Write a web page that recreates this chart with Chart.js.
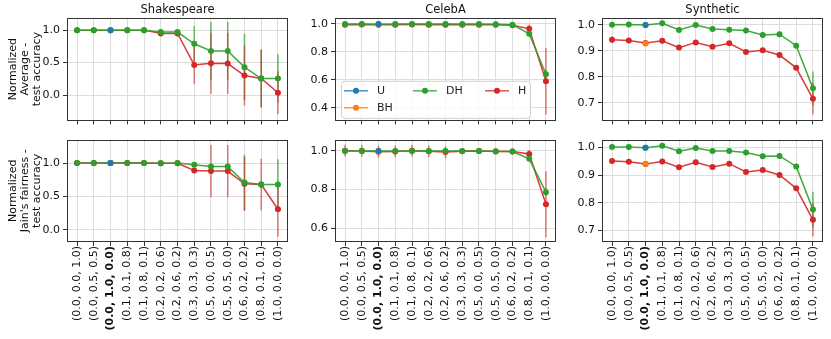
<!DOCTYPE html>
<html>
<head>
<meta charset="utf-8">
<script src="https://cdn.jsdelivr.net/npm/chart.js@4.4.1/dist/chart.umd.min.js"></script>
<style>
  body { margin: 0; background: #fff; width: 831px; height: 339px; position: relative; overflow: hidden; }
  canvas { position: absolute; }
</style>
</head>
<body>
<canvas id="shakeAvg" width="300" height="130" style="left:0;top:0"></canvas>
<canvas id="celebAvg" width="270" height="130" style="left:300px;top:0"></canvas>
<canvas id="synAvg" width="261" height="130" style="left:570px;top:0"></canvas>
<canvas id="shakeFair" width="300" height="209" style="left:0;top:130px"></canvas>
<canvas id="celebFair" width="270" height="209" style="left:300px;top:130px"></canvas>
<canvas id="synFair" width="261" height="209" style="left:570px;top:130px"></canvas>
<script>
const weights = ["(0.0, 0.0, 1.0)", "(0.0, 0.5, 0.5)", "(0.0, 1.0, 0.0)", "(0.1, 0.1, 0.8)", "(0.1, 0.8, 0.1)",
  "(0.2, 0.2, 0.6)", "(0.2, 0.6, 0.2)", "(0.3, 0.3, 0.3)", "(0.5, 0.0, 0.5)", "(0.5, 0.5, 0.0)",
  "(0.6, 0.2, 0.2)", "(0.8, 0.1, 0.1)", "(1.0, 0.0, 0.0)"];
const uIndex = 2; // U and BH only have the (0,1,0) point

// Shakespeare
const shakeAvgDH = [1.0, 1.0, 1.0, 1.0, 1.0, 0.97, 0.97, 0.79, 0.68, 0.68, 0.43, 0.255, 0.255];
const shakeAvgDHErr = [0, 0, 0, 0, 0, 0.01, 0.01, 0.275, 0.445, 0.445, 0.51, 0.45, 0.375];
const shakeAvgH = [1.0, 1.0, 1.0, 1.0, 1.0, 0.95, 0.95, 0.465, 0.49, 0.485, 0.30, 0.255, 0.035];
const shakeAvgHErr = [0, 0, 0, 0, 0, 0.02, 0.02, 0.30, 0.47, 0.47, 0.46, 0.44, 0.33];
const shakeAvgU = 1.0, shakeAvgBH = 1.0;
const shakeFairDH = [1.0, 1.0, 1.0, 1.0, 1.0, 0.995, 1.0, 0.976, 0.947, 0.947, 0.71, 0.678, 0.678];
const shakeFairDHErr = [0, 0, 0, 0, 0, 0, 0, 0.01, 0.03, 0.03, 0.415, 0.05, 0.38];
const shakeFairH = [1.0, 1.0, 1.0, 1.0, 1.0, 0.995, 0.995, 0.89, 0.88, 0.88, 0.69, 0.678, 0.31];
const shakeFairHErr = [0, 0, 0, 0, 0, 0, 0, 0.02, 0.39, 0.39, 0.405, 0.385, 0.41];
const shakeFairU = 1.0, shakeFairBH = 1.0;

// CelebA
const celebAvgDH = [1.0, 1.0, 0.998, 0.999, 1.0, 0.999, 0.999, 0.999, 0.999, 0.997, 0.995, 0.93, 0.64];
const celebAvgDHErr = [0.005, 0.005, 0.005, 0.005, 0.005, 0.005, 0.005, 0.005, 0.005, 0.005, 0.005, 0.02, 0.03];
const celebAvgH = [0.995, 0.996, 0.994, 0.995, 0.996, 0.995, 0.994, 0.995, 0.995, 0.994, 0.99, 0.965, 0.59];
const celebAvgHErr = [0.005, 0.005, 0.005, 0.005, 0.005, 0.005, 0.005, 0.005, 0.005, 0.005, 0.005, 0.03, 0.24];
const celebAvgU = 1.0, celebAvgBH = 0.995;
const celebFairDH = [0.998, 0.998, 0.998, 0.998, 0.999, 0.998, 0.998, 0.998, 0.998, 0.997, 0.996, 0.958, 0.787];
const celebFairDHErr = [0.005, 0.005, 0.005, 0.005, 0.005, 0.005, 0.005, 0.005, 0.005, 0.005, 0.005, 0.01, 0.02];
const celebFairH = [1.0, 0.999, 0.995, 0.996, 1.0, 0.997, 0.993, 0.997, 0.998, 0.996, 0.996, 0.983, 0.725];
const celebFairHErr = [0.03, 0.03, 0.03, 0.03, 0.03, 0.03, 0.03, 0.01, 0.01, 0.01, 0.01, 0.02, 0.17];
const celebFairU = 0.999, celebFairBH = 0.995;

// Synthetic
const synAvgDH = [1.0, 1.001, 0.999, 1.006, 0.98, 0.999, 0.984, 0.981, 0.978, 0.961, 0.964, 0.92, 0.756];
const synAvgDHErr = [0.003, 0.003, 0.003, 0.003, 0.004, 0.003, 0.004, 0.004, 0.004, 0.004, 0.008, 0.004, 0.065];
const synAvgH = [0.943, 0.94, 0.93, 0.939, 0.9125, 0.9325, 0.916, 0.929, 0.896, 0.9025, 0.884, 0.835, 0.716];
const synAvgHErr = [0.012, 0.006, 0.006, 0.006, 0.008, 0.006, 0.006, 0.006, 0.007, 0.006, 0.01, 0.006, 0.06];
const synAvgU = 0.999, synAvgBH = 0.928;
const synFairDH = [1.001, 1.001, 0.999, 1.006, 0.986, 0.998, 0.987, 0.987, 0.981, 0.968, 0.969, 0.931, 0.775];
const synFairDHErr = [0.003, 0.003, 0.003, 0.003, 0.004, 0.003, 0.004, 0.004, 0.004, 0.004, 0.008, 0.004, 0.065];
const synFairH = [0.951, 0.948, 0.94, 0.949, 0.928, 0.946, 0.929, 0.941, 0.911, 0.918, 0.9, 0.852, 0.738];
const synFairHErr = [0.01, 0.006, 0.006, 0.006, 0.006, 0.006, 0.006, 0.006, 0.006, 0.006, 0.01, 0.006, 0.06];
const synFairU = 0.999, synFairBH = 0.941;

const colors = { U: "#1f77b4", BH: "#ff7f0e", DH: "#2ca02c", H: "#d62728" };
const FONT = "DejaVu Sans";

Chart.defaults.font.family = FONT;
Chart.defaults.font.size = 11;
Chart.defaults.color = "#222";

function alpha(hex, a) {
  const n = parseInt(hex.slice(1), 16);
  return `rgba(${n >> 16},${(n >> 8) & 255},${n & 255},${a})`;
}

// vertical error bars, drawn under the lines
const errorBars = {
  id: "errorBars",
  beforeDatasetsDraw(chart) {
    const { ctx, chartArea, scales: { x, y } } = chart;
    ctx.save();
    ctx.beginPath();
    ctx.rect(chartArea.left, chartArea.top, chartArea.width, chartArea.height);
    ctx.clip();
    chart.data.datasets.forEach(ds => {
      if (!ds.errors) return;
      ctx.strokeStyle = ds.errorColor;
      ctx.lineWidth = 1.5;
      ds.data.forEach((p, i) => {
        const e = ds.errors[i];
        if (!e) return;
        const px = x.getPixelForValue(p.x);
        ctx.beginPath();
        ctx.moveTo(px, y.getPixelForValue(p.y - e));
        ctx.lineTo(px, y.getPixelForValue(p.y + e));
        ctx.stroke();
      });
    });
    ctx.restore();
  }
};

// full box around the plot area
const frame = {
  id: "frame",
  afterDatasetsDraw(chart) {
    const { ctx, chartArea: a } = chart;
    ctx.save();
    ctx.strokeStyle = "#333";
    ctx.lineWidth = 1;
    ctx.strokeRect(Math.round(a.left) + 0.5, Math.round(a.top) + 0.5, Math.round(a.width) - 1, Math.round(a.height) - 1);
    ctx.restore();
  }
};

// matplotlib style legend, 3 columns filled column-wise
const boxLegend = {
  id: "boxLegend",
  afterDraw(chart, args, opts) {
    if (!opts.show) return;
    const { ctx, chartArea: a } = chart;
    const bx = a.left + 6, by = a.top + 63, bw = 189, bh = 37;
    ctx.save();
    ctx.fillStyle = "rgba(255,255,255,0.8)";
    ctx.strokeStyle = "#d0d0d0";
    ctx.lineWidth = 1;
    ctx.beginPath();
    ctx.roundRect(bx + 0.5, by + 0.5, bw, bh, 3);
    ctx.fill();
    ctx.stroke();
    const slots = [[3, 10], [3, 27], [72, 10], [144, 10]];
    ctx.font = `11px ${FONT}`;
    ctx.textBaseline = "middle";
    chart.data.datasets.forEach((ds, i) => {
      const [ox, oy] = slots[i];
      const c = colors[ds.label];
      const hx = bx + ox, hy = by + oy;
      ctx.strokeStyle = alpha(c, 0.8);
      ctx.lineWidth = 1.5;
      ctx.beginPath();
      ctx.moveTo(hx, hy);
      ctx.lineTo(hx + 24, hy);
      ctx.stroke();
      ctx.fillStyle = c;
      ctx.beginPath();
      ctx.arc(hx + 12, hy, 3, 0, Math.PI * 2);
      ctx.fill();
      ctx.fillStyle = "#222";
      ctx.fillText(ds.label, hx + 33, hy);
    });
    ctx.restore();
  }
};

function lineSet(label, vals, errs) {
  return {
    label,
    data: vals.map((v, i) => ({ x: i, y: v })),
    errors: errs,
    errorColor: alpha(colors[label], label === "H" ? 0.6 : 0.7),
    borderColor: alpha(colors[label], 0.9),
    backgroundColor: colors[label],
    pointBackgroundColor: colors[label],
    pointBorderWidth: 0,
    pointRadius: 3,
    borderWidth: 1.5,
    tension: 0
  };
}

function pointSet(label, v) {
  return {
    label,
    data: [{ x: uIndex, y: v }],
    showLine: false,
    backgroundColor: colors[label],
    pointBackgroundColor: colors[label],
    pointBorderWidth: 0,
    pointRadius: 3
  };
}

function makePanel(id, p) {
  const top = p.row === 0;
  new Chart(document.getElementById(id), {
    type: "line",
    data: {
      datasets: [
        pointSet("U", p.u),
        pointSet("BH", p.bh),
        lineSet("DH", p.dh, p.dhErr),
        lineSet("H", p.h, p.hErr)
      ]
    },
    plugins: [errorBars, frame, boxLegend],
    options: {
      responsive: false,
      animation: false,
      layout: { padding: { left: 0, right: p.padR, top: top ? 0 : 7, bottom: 0 } },
      plugins: {
        legend: { display: false },
        tooltip: { enabled: false },
        title: {
          display: top,
          text: p.title,
          fullSize: false,
          color: "#111",
          font: { size: 11.5, weight: "normal" },
          padding: { top: 3, bottom: 1 }
        },
        boxLegend: { show: !!p.legend }
      },
      scales: {
        x: {
          type: "linear",
          min: -0.6,
          max: 12.6,
          afterBuildTicks: s => { s.ticks = weights.map((w, i) => ({ value: i })); },
          afterFit: s => { s.height = top ? 7 : 97; },
          grid: { color: "#dddddd", tickColor: "#333", tickLength: 4 },
          border: { display: false },
          ticks: {
            display: !top,
            autoSkip: false,
            minRotation: 90,
            maxRotation: 90,
            padding: 0,
            color: "#111",
            callback: v => weights[v],
            font: c => ({ family: FONT, size: 11, weight: c.tick && c.tick.value === uIndex ? "bold" : "normal" })
          }
        },
        y: {
          min: p.ymin,
          max: p.ymax,
          afterBuildTicks: s => { s.ticks = p.yticks.map(v => ({ value: v })); },
          afterFit: s => { s.width = p.axisW; },
          grid: { color: "#dddddd", tickColor: "#333", tickLength: 4 },
          border: { display: false },
          ticks: { padding: 3, color: "#111", callback: v => v.toFixed(1) },
          title: {
            display: !!p.ytitle,
            text: p.ytitle,
            color: "#111",
            font: { size: 11, lineHeight: 1.1 },
            padding: { top: 7, bottom: 0 }
          }
        }
      }
    }
  });
}

const cols = [{ axisW: 67, padR: 12 }, { axisW: 35, padR: 14 }, { axisW: 32, padR: 8 }];

makePanel("shakeAvg", { row: 0, ...cols[0], title: "Shakespeare", ytitle: ["Normalized", "Average -", "test accuracy"],
  ymin: -0.39, ymax: 1.19, yticks: [0, 0.5, 1.0],
  u: shakeAvgU, bh: shakeAvgBH, dh: shakeAvgDH, dhErr: shakeAvgDHErr, h: shakeAvgH, hErr: shakeAvgHErr });
makePanel("celebAvg", { row: 0, ...cols[1], title: "CelebA", legend: true,
  ymin: 0.31, ymax: 1.044, yticks: [0.4, 0.6, 0.8, 1.0],
  u: celebAvgU, bh: celebAvgBH, dh: celebAvgDH, dhErr: celebAvgDHErr, h: celebAvgH, hErr: celebAvgHErr });
makePanel("synAvg", { row: 0, ...cols[2], title: "Synthetic",
  ymin: 0.633, ymax: 1.027, yticks: [0.7, 0.8, 0.9, 1.0],
  u: synAvgU, bh: synAvgBH, dh: synAvgDH, dhErr: synAvgDHErr, h: synAvgH, hErr: synAvgHErr });
makePanel("shakeFair", { row: 1, ...cols[0], ytitle: ["Normalized", "Jain's fairness -", "test accuracy"],
  ymin: -0.18, ymax: 1.35, yticks: [0, 0.5, 1.0],
  u: shakeFairU, bh: shakeFairBH, dh: shakeFairDH, dhErr: shakeFairDHErr, h: shakeFairH, hErr: shakeFairHErr });
makePanel("celebFair", { row: 1, ...cols[1],
  ymin: 0.531, ymax: 1.057, yticks: [0.6, 0.8, 1.0],
  u: celebFairU, bh: celebFairBH, dh: celebFairDH, dhErr: celebFairDHErr, h: celebFairH, hErr: celebFairHErr });
makePanel("synFair", { row: 1, ...cols[2],
  ymin: 0.658, ymax: 1.028, yticks: [0.7, 0.8, 0.9, 1.0],
  u: synFairU, bh: synFairBH, dh: synFairDH, dhErr: synFairDHErr, h: synFairH, hErr: synFairHErr });
</script>
</body>
</html>
